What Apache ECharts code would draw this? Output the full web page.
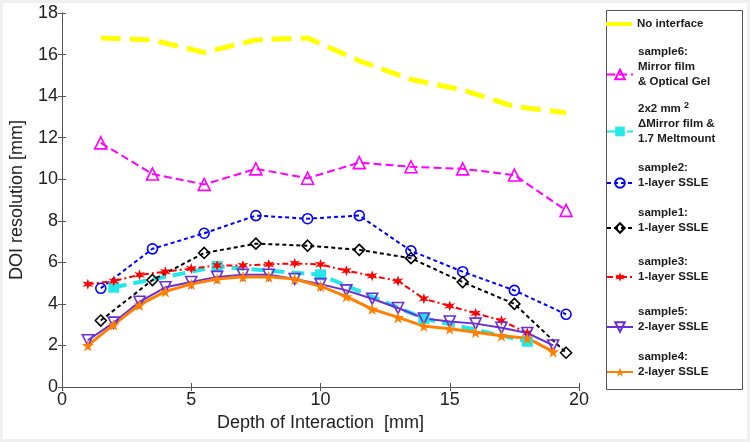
<!DOCTYPE html>
<html>
<head>
<meta charset="utf-8">
<script src="https://cdn.jsdelivr.net/npm/echarts@6/dist/echarts.min.js"></script>
<style>
  html, body { margin: 0; padding: 0; background: #fff; }
  #doi-chart { width: 750px; height: 442px; }
</style>
</head>
<body>
<div id="doi-chart"></div>
<script>
// values
var xEven = [1.5, 3.5, 5.5, 7.5, 9.5, 11.5, 13.5, 15.5, 17.5, 19.5];
var xInt18 = [1, 2, 3, 4, 5, 6, 7, 8, 9, 10, 11, 12, 13, 14, 15, 16, 17, 18];
var xInt19 = [1, 2, 3, 4, 5, 6, 7, 8, 9, 10, 11, 12, 13, 14, 15, 16, 17, 18, 19];
var xCyan = [2, 6, 10, 14, 18];

var noInterface = [16.8, 16.7, 16.1, 16.7, 16.8, 15.7, 14.8, 14.3, 13.5, 13.2];
var sample6 = [11.75, 10.25, 9.75, 10.5, 10.05, 10.8, 10.6, 10.5, 10.2, 8.5];
var mm2Meltmount = [4.8, 5.8, 5.4, 3.3, 2.2];
var sample2 = [4.75, 6.65, 7.4, 8.25, 8.1, 8.25, 6.55, 5.55, 4.65, 3.5];
var sample1 = [3.2, 5.15, 6.45, 6.9, 6.8, 6.6, 6.2, 5.05, 4.0, 1.65];
var sample3 = [4.95, 5.1, 5.4, 5.55, 5.7, 5.85, 5.85, 5.9, 5.95, 5.9, 5.6, 5.35, 5.1, 4.25, 3.9, 3.55, 3.2, 2.6];
var sample5 = [2.25, 3.1, 4.1, 4.8, 5.05, 5.3, 5.4, 5.4, 5.2, 4.95, 4.65, 4.25, 3.8, 3.3, 3.15, 3.05, 2.85, 2.6, 2.0];
var sample4 = [2.0, 3.0, 3.95, 4.6, 4.95, 5.2, 5.3, 5.3, 5.2, 4.85, 4.35, 3.75, 3.35, 2.93, 2.8, 2.63, 2.47, 2.35, 1.7];

var legendText = {
    'No interface': 'No interface',
    'sample6': 'sample6:\nMirror film\n& Optical Gel\n ',
    '2x2': '2x2 mm {sup|2}\n\u0394Mirror film &\n1.7 Meltmount\n ',
    'sample2': 'sample2:\n1-layer SSLE\n ',
    'sample1': 'sample1:\n1-layer SSLE\n ',
    'sample3': 'sample3:\n1-layer SSLE\n ',
    'sample5': 'sample5:\n2-layer SSLE\n ',
    'sample4': 'sample4:\n2-layer SSLE\n '
};
var legendOrder = ['No interface', 'sample6', '2x2', 'sample2', 'sample1', 'sample3', 'sample5', 'sample4'];
var legendLineY = [24, 52, 109, 168, 213, 262, 312, 357];

var FONT = '"Liberation Sans", Arial, Helvetica, sans-serif';
var starPath = 'path://M50,0 L61,35 L98,35 L68,57 L79,91 L50,70 L21,91 L32,57 L2,35 L39,35 Z';
var asteriskPath = 'path://M50,0 L60,33 L93,25 L70,50 L93,75 L60,67 L50,100 L40,67 L7,75 L30,50 L7,25 L40,33 Z';

function pairs(xs, ys) {
    return xs.map(function (x, i) { return [x, ys[i]]; });
}

function lineSeries(name, xs, ys, color, width, dash, symbol, size, hollow, extra) {
    var s = {
        name: name,
        type: 'line',
        data: pairs(xs, ys),
        color: color,
        symbol: symbol,
        symbolSize: size,
        showSymbol: symbol !== 'none',
        animation: false,
        lineStyle: { color: color, width: width, type: dash },
        itemStyle: hollow
            ? { color: 'rgba(255,255,255,0)', borderColor: color, borderWidth: 1.6 }
            : { color: color, borderColor: color, borderWidth: 0 }
    };
    for (var k in extra) s[k] = extra[k];
    return s;
}

var dom = document.getElementById('doi-chart');
var myChart = echarts.init(dom, null, { renderer: 'canvas' });

var legends = legendOrder.map(function (name, i) {
    var plain = name === 'No interface';
    return {
        data: plain ? [{ name: name, icon: 'rect' }] : [name],
        orient: 'vertical',
        left: 606,
        top: legendLineY[i] - 7.5,
        padding: 0,
        itemWidth: 26,
        itemHeight: plain ? 4 : 12,
        selectedMode: false,
        formatter: function (n) { return legendText[n]; },
        textStyle: {
            fontFamily: FONT,
            fontSize: 11.5,
            fontWeight: 'bold',
            color: '#1a1a1a',
            lineHeight: 15,
            rich: {
                sup: { fontFamily: FONT, fontSize: 9, fontWeight: 'bold', color: '#1a1a1a', verticalAlign: 'top', lineHeight: 15, padding: [0, 0, 6, 0] }
            }
        }
    };
});

var axisLineStyle = { color: '#555', width: 1 };

var option = {
    backgroundColor: '#fff',
    animation: false,
    grid: { left: 60, right: 171, top: 13, bottom: 55 },
    legend: legends,
    xAxis: [
        {
            type: 'value', min: 0, max: 20, interval: 5,
            name: 'Depth of Interaction  [mm]',
            nameLocation: 'middle', nameGap: 27,
            nameTextStyle: { fontFamily: FONT, fontSize: 18, color: '#222' },
            axisLine: { show: true, lineStyle: axisLineStyle },
            axisTick: { show: true, inside: true, length: 4, lineStyle: axisLineStyle },
            axisLabel: { fontFamily: FONT, fontSize: 18, color: '#222', margin: 4 },
            splitLine: { show: false }
        },
        {
            type: 'value', min: 0, max: 20, interval: 5, position: 'top',
            axisLine: { show: true, lineStyle: axisLineStyle },
            axisTick: { show: true, inside: true, length: 4, lineStyle: axisLineStyle },
            axisLabel: { show: false },
            splitLine: { show: false }
        }
    ],
    yAxis: [
        {
            type: 'value', min: 0, max: 18, interval: 2,
            name: 'DOI resolution [mm]',
            nameLocation: 'middle', nameGap: 36,
            nameTextStyle: { fontFamily: FONT, fontSize: 18, color: '#222' },
            axisLine: { show: true, lineStyle: axisLineStyle },
            axisTick: { show: true, inside: true, length: 4, lineStyle: axisLineStyle },
            axisLabel: { fontFamily: FONT, fontSize: 18, color: '#222', margin: 4 },
            splitLine: { show: false }
        },
        {
            type: 'value', min: 0, max: 18, interval: 2, position: 'right',
            axisLine: { show: true, lineStyle: axisLineStyle },
            axisTick: { show: true, inside: true, length: 4, lineStyle: axisLineStyle },
            axisLabel: { show: false },
            splitLine: { show: false }
        }
    ],
    graphic: [
        {
            type: 'rect',
            shape: { x: 606.5, y: 10.5, width: 136, height: 379 },
            style: { fill: 'none', stroke: '#555', lineWidth: 1 },
            silent: true
        },
        {
            type: 'rect',
            shape: { x: 1.5, y: 1.5, width: 747, height: 439 },
            style: { fill: 'none', stroke: '#f0f0f0', lineWidth: 3 },
            silent: true
        }
    ],
    series: [
        lineSeries('No interface', xEven, noInterface, '#ffff00', 5, [20, 9], 'none', 0, false),
        lineSeries('sample6', xEven, sample6, '#ff00ff', 2, [8, 4], 'triangle', 12, true),
        lineSeries('2x2', xCyan, mm2Meltmount, '#22e8e8', 4, [13, 7], 'rect', 11, false),
        lineSeries('sample2', xEven, sample2, '#0000ff', 2, [4, 3], 'circle', 10, true),
        lineSeries('sample1', xEven, sample1, '#000000', 2, [4, 3], 'diamond', 11, true),
        lineSeries('sample3', xInt18, sample3, '#ff0000', 2, [6, 3, 2, 3], asteriskPath, 11, false),
        lineSeries('sample5', xInt19, sample5, '#6a2ed6', 2, 'solid', 'triangle', 11, true, { symbolRotate: 180 }),
        lineSeries('sample4', xInt19, sample4, '#ff8000', 3, 'solid', starPath, 12, false)
    ]
};

if (option && typeof option === 'object') {
    myChart.setOption(option);
}

window.addEventListener('resize', myChart.resize);
</script>
</body>
</html>
